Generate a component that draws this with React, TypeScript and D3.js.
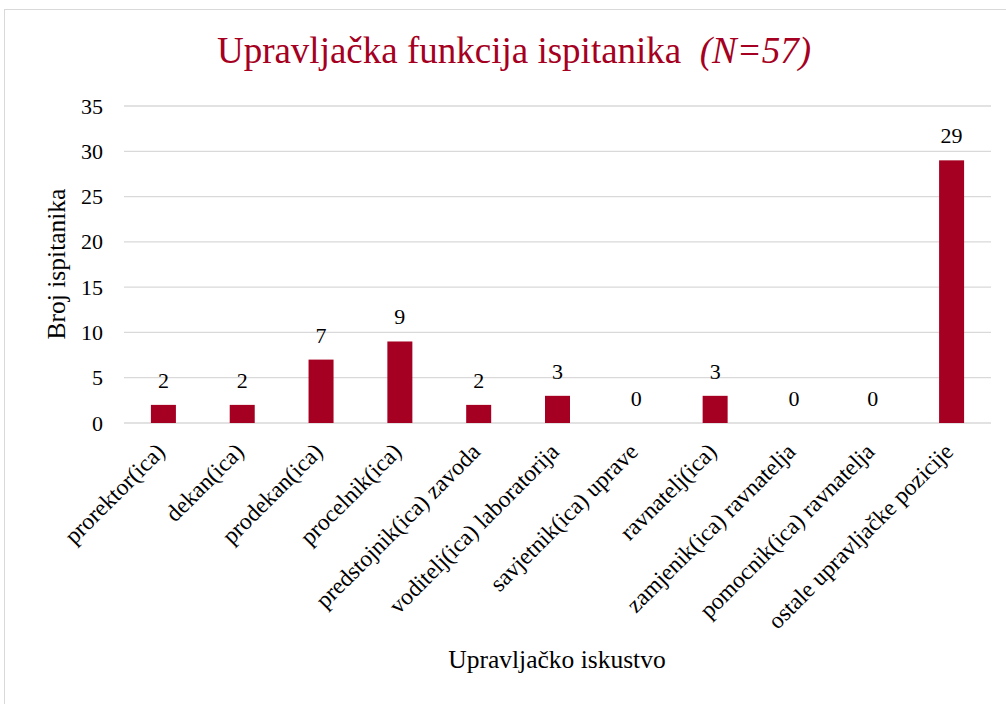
import React from "react";
import * as d3 from "d3";

const categories = [
  "prorektor(ica)",
  "dekan(ica)",
  "prodekan(ica)",
  "procelnik(ica)",
  "predstojnik(ica) zavoda",
  "voditelj(ica) laboratorija",
  "savjetnik(ica) uprave",
  "ravnatelj(ica)",
  "zamjenik(ica) ravnatelja",
  "pomocnik(ica) ravnatelja",
  "ostale upravljačke pozicije",
];
const values = [2, 2, 7, 9, 2, 3, 0, 3, 0, 0, 29];
const yTicks = [0, 5, 10, 15, 20, 25, 30, 35];

const W = 1006;
const H = 704;
const M = { left: 124, right: 991, top: 106, bottom: 423 };
const RED = "#A50021";
const F = "Liberation Serif";

export default function App() {
  const x = d3
    .scaleBand<string>()
    .domain(categories)
    .range([M.left, M.right])
    .paddingInner(0.683)
    .paddingOuter(0.3415);
  const y = d3.scaleLinear().domain([0, 35]).range([M.bottom, M.top]);
  const bw = 25;

  return (
    <div style={{ position: "absolute", left: 0, top: 0 }}>
      <svg width={W} height={H}>
        <rect x={0} y={0} width={W} height={H} fill="#fff" />
        <rect x={4.5} y={9.5} width={1010} height={700} fill="#fff" stroke="#d9d9d9" />
        <text x={514} y={63} textAnchor="middle" fontSize={37} fill={RED} fontFamily={F}>
          Upravljačka funkcija ispitanika{"\u00a0\u00a0"}
          <tspan fontStyle="italic" fontFamily={F}>(N=57)</tspan>
        </text>
        {yTicks.map((t) => (
          <g key={t}>
            <line
              x1={M.left}
              x2={M.right}
              y1={y(t)}
              y2={y(t)}
              stroke="#d9d9d9"
              strokeWidth={1.3}
            />
            <text
              x={103}
              y={y(t) + 7.5}
              textAnchor="end"
              fontSize={22}
              fill="#000"
              fontFamily={F}
            >
              {t}
            </text>
          </g>
        ))}
        {categories.map((c, i) => {
          const cx = (x(c) as number) + x.bandwidth() / 2;
          return (
            <g key={c}>
              <rect
                x={cx - bw / 2}
                y={y(values[i])}
                width={bw}
                height={y(0) - y(values[i])}
                fill={RED}
              />
              <text
                x={cx}
                y={y(values[i]) - 17}
                textAnchor="middle"
                fontSize={22}
                fill="#000"
                fontFamily={F}
              >
                {values[i]}
              </text>
              <text
                transform={`translate(${cx + 3},${453}) rotate(-45)`}
                textAnchor="end"
                fontSize={23.5}
                fill="#000"
                fontFamily={F}
              >
                {c}
              </text>
            </g>
          );
        })}
        <text
          transform={`translate(65,${264}) rotate(-90)`}
          textAnchor="middle"
          fontSize={25.5}
          fill="#000"
          fontFamily={F}
        >
          Broj ispitanika
        </text>
        <text x={557} y={668} textAnchor="middle" fontSize={25.5} fill="#000" fontFamily={F}>
          Upravljačko iskustvo
        </text>
      </svg>
    </div>
  );
}
